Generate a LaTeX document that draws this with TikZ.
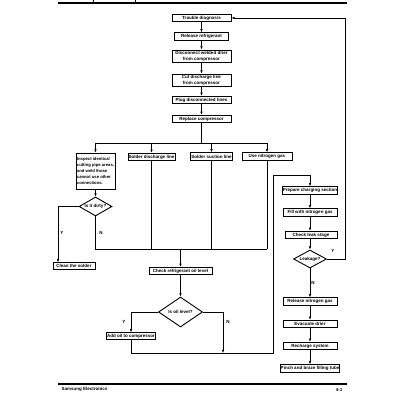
\documentclass[tikz,border=0pt]{standalone}
\usepackage{fontspec}
\setmainfont{Liberation Sans}
\usetikzlibrary{arrows.meta,shapes.geometric}
\begin{document}
\begin{tikzpicture}[x=1pt,y=-1pt,
  txt/.style={font=\fontsize{4.5}{5.8}\selectfont\bfseries},
  box/.style={txt,draw,line width=0.9pt,inner sep=0.5pt,align=center,minimum height=7.5pt},
  dia/.style={draw,diamond,line width=0.9pt,inner sep=0pt},
  ln/.style={line width=0.75pt},
  arr/.style={ln,-{Latex[length=3.2pt,width=2.6pt]}},
  lbl/.style={txt}]
\useasboundingbox (0,0) rectangle (400,400);
% header and footer
\draw[line width=1.3pt] (58,3) -- (347,3);
\draw[line width=0.9pt] (93,0) -- (93,3) (135,0) -- (135,3);
\draw[line width=1.3pt] (58,384) -- (347,384);
\node[lbl,anchor=west] (foot) at (58,389.5) {Samsung Electronics};
\node[lbl,anchor=east] (page) at (346,389.5) {4-1};
% main column
\node[box,minimum width=59pt] (n1) at (201.5,18) {Trouble diagnosis};
\node[box,minimum width=54pt] (n2) at (201.5,36.5) {Release refrigerant};
\node[box,minimum width=59pt,minimum height=12pt] (n3) at (201.5,56) {Disconnect welded drier\\from compressor};
\node[box,minimum width=59pt,minimum height=12pt] (n4) at (201.5,80) {Cut discharge line\\from compressor};
\node[box,minimum width=59pt] (n5) at (201.5,100) {Plug disconnected lines};
\node[box,minimum width=59pt] (n6) at (201.5,119) {Replace compressor};
\draw[arr] (n1) -- (n2);
\draw[arr] (n2) -- (n3);
\draw[arr] (n3) -- (n4);
\draw[arr] (n4) -- (n5);
\draw[arr] (n5) -- (n6);
% branches
\node[box,minimum width=39pt,minimum height=36pt,align=left,font=\fontsize{4.2}{5.8}\selectfont\bfseries] (a) at (95.5,171) {Inspect identical\\cutting pipe areas,\\and weld those\\cannot use other\\connections.};
\node[box,minimum width=47pt] (b) at (151.5,157) {Solder discharge line};
\node[box,minimum width=40pt] (c) at (211.5,156.5) {Solder suction line};
\node[box,minimum width=50pt] (d) at (267,156.5) {Use nitrogen gas};
\coordinate (j0) at (201.5,143);
\coordinate (ja) at (95.5,143);
\coordinate (jd) at (267,143);
\draw[ln] (n6) -- (j0);
\draw[ln] (ja) -- (jd);
\draw[arr] (ja) -- (a);
\draw[arr] (b.north |- j0) -- (b);
\draw[arr] (c.north |- j0) -- (c);
\draw[arr] (jd) -- (d);
% left diamond
\node[dia,minimum width=33pt,minimum height=19pt] (d1) at (95.5,206.5) {};
\node[lbl] (d1t) at (d1) {Is it dirty?};
\draw[arr] (a) -- (d1);
\node[box,minimum width=42pt,minimum height=6.5pt] (clean) at (74,266) {Clean the solder};
\coordinate (d1w) at (58,206.5);
\draw[arr] (d1.west) -- (d1w) -- (clean.north -| d1w);
\node[lbl] (y1) at (62,233) {Y};
\node[lbl] (n1l) at (101,233) {N};
% collecting line
\coordinate (m0) at (95.5,249);
\coordinate (m1) at (267,249);
\draw[ln] (d1.south) -- (m0) -- (m1);
\draw[ln] (b) -- (b |- m0);
\draw[ln] (c) -- (c |- m0);
\draw[ln] (d) -- (m1);
% check oil
\node[box,minimum width=63pt] (chk) at (180.5,271) {Check refrigerant oil level};
\draw[arr] (chk.north |- m0) -- (chk);
\node[dia,minimum width=44pt,minimum height=30pt] (d2) at (180.5,312) {};
\node[lbl] (d2t) at (d2) {Is oil level?};
\draw[arr] (chk) -- (d2);
\node[box,minimum width=49pt,minimum height=6.5pt] (add) at (131,336) {Add oil to compressor};
\coordinate (d2w) at (131,312);
\draw[arr] (d2.west) -- (d2w) -- (add);
\node[lbl] (y2) at (124,322) {Y};
\coordinate (d2e) at (223,312);
\coordinate (d2s) at (223,353);
\draw[arr] (d2.east) -- (d2e) -- (d2s);
\node[lbl] (n2l) at (228,322) {N};
% loop to right column
\coordinate (r0) at (131,353);
\coordinate (r1) at (273,353);
\coordinate (r2) at (273,175);
\coordinate (r3) at (310,175);
\node[box,minimum width=54pt] (e) at (310,190.5) {Prepare charging section};
\draw[arr] (add) -- (r0) -- (r1) -- (r2) -- (r3) -- (e);
\node[box,minimum width=54pt] (f) at (310,212.5) {Fill with nitrogen gas};
\node[box,minimum width=52pt] (g) at (311,235) {Check leak stage};
\draw[arr] (e) -- (f);
\draw[arr] (f) -- (g.north -| f);
\node[dia,minimum width=33pt,minimum height=18pt] (d3) at (310,259) {};
\node[lbl] (d3t) at (d3) {Leakage?};
\draw[arr] (g.south -| d3) -- (d3);
\coordinate (t1) at (345,259);
\coordinate (t2) at (345,18);
\draw[arr] (d3.east) -- (t1) -- (t2) -- (n1.east);
\node[lbl] (y3) at (333,251) {Y};
\node[box,minimum width=54pt] (i) at (310,301.5) {Release nitrogen gas};
\draw[arr] (d3) -- (i);
\node[lbl] (n3l) at (313,283) {N};
\node[box,minimum width=54pt] (jb) at (310,324) {Evacuate drier};
\node[box,minimum width=54pt] (k) at (310,346) {Recharge system};
\node[box,minimum width=54pt] (l) at (310,368.5) {Pinch and braze filling tube};
\draw[arr] (i) -- (jb);
\draw[arr] (jb) -- (k);
\draw[arr] (k) -- (l);
\end{tikzpicture}
\end{document}
